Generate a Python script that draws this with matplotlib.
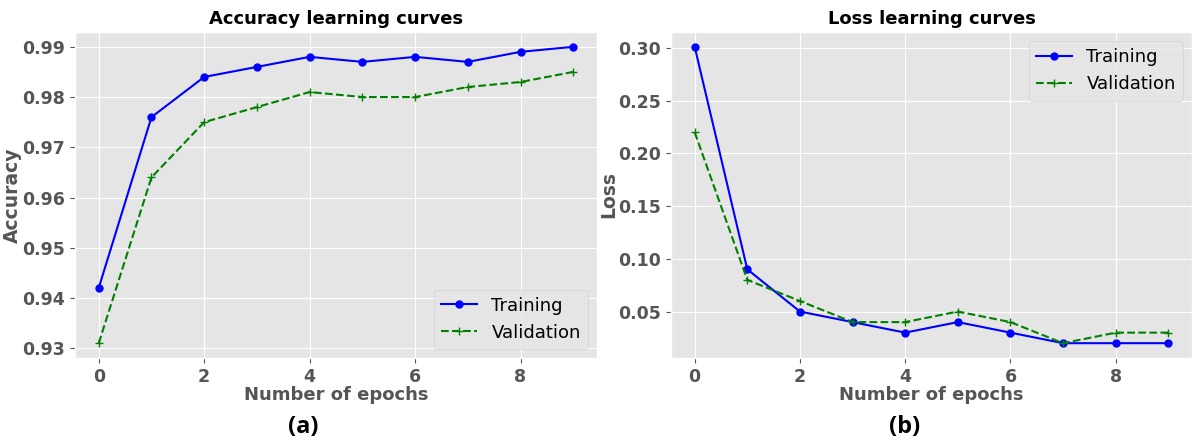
import numpy as np
import matplotlib
matplotlib.use("Agg")
import matplotlib.pyplot as plt

plt.style.use("ggplot")

epochs = np.arange(10)
acc_train = [0.942, 0.976, 0.984, 0.986, 0.988, 0.987, 0.988, 0.987, 0.989, 0.990]
acc_val = [0.931, 0.964, 0.975, 0.978, 0.981, 0.980, 0.980, 0.982, 0.983, 0.985]
loss_train = [0.301, 0.09, 0.05, 0.04, 0.03, 0.04, 0.03, 0.02, 0.02, 0.02]
loss_val = [0.22, 0.08, 0.06, 0.04, 0.04, 0.05, 0.04, 0.02, 0.03, 0.03]

W, H = 1192, 442
fig = plt.figure(figsize=(W / 100, H / 100), dpi=100)


def axes_px(x0, x1, y0, y1):
    return fig.add_axes([x0 / W, 1 - y1 / H, (x1 - x0) / W, (y1 - y0) / H])


ax1 = axes_px(75, 597, 32, 358)
ax2 = axes_px(671, 1192, 32, 358)


def style(ax, title, ylabel, fmt, legend_loc):
    ax.set_title(title, fontsize=13, fontweight="bold", color="black", pad=6)
    ax.set_xlabel("Number of epochs", fontsize=13, fontweight="bold",
                  color="#555555", labelpad=0)
    ax.set_ylabel(ylabel, fontsize=13.5, fontweight="bold", color="#555555",
                  labelpad=0)
    ax.yaxis.set_major_formatter(plt.FormatStrFormatter(fmt))
    for lab in ax.get_xticklabels() + ax.get_yticklabels():
        lab.set_fontweight("bold")
        lab.set_fontsize(12.5)
        lab.set_color("#555555")
    ax.legend(loc=legend_loc, fontsize=13)


ax1.plot(epochs, acc_train, "b-o", markersize=5, label="Training")
ax1.plot(epochs, acc_val, "g--+", markersize=6, label="Validation")
ax1.set_yticks([0.93, 0.94, 0.95, 0.96, 0.97, 0.98, 0.99])
style(ax1, "Accuracy learning curves", "Accuracy", "%.2f", "lower right")

ax2.plot(epochs, loss_train, "b-o", markersize=5, label="Training")
ax2.plot(epochs, loss_val, "g--+", markersize=6, label="Validation")
ax2.set_yticks([0.05, 0.10, 0.15, 0.20, 0.25, 0.30])
style(ax2, "Loss learning curves", "Loss", "%.2f", "upper right")

fig.text(303 / W, 1 - 427 / H, "(a)", fontsize=17, fontweight="bold",
         family=["Open Sans", "DejaVu Sans"], ha="center", va="center")
fig.text(905 / W, 1 - 427 / H, "(b)", fontsize=17, fontweight="bold",
         family=["Open Sans", "DejaVu Sans"], ha="center", va="center")

fig.savefig("out.png", dpi=100)
